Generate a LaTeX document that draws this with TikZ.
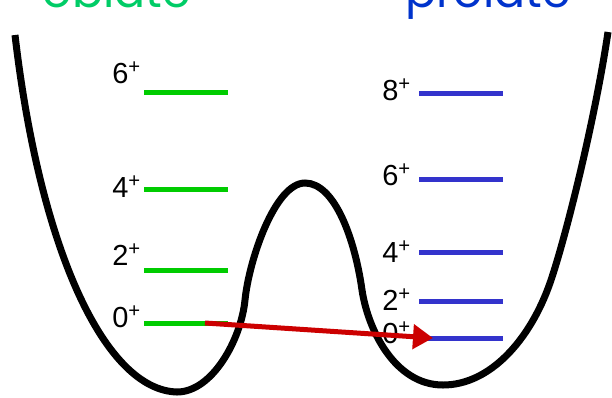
\documentclass[tikz,border=0pt]{standalone}
\usepackage{fontspec}
\setmainfont{Liberation Sans}
\newfontfamily\titlefont{Poppins}
\usetikzlibrary{arrows.meta}
\definecolor{obgreen}{HTML}{00CC66}
\definecolor{prblue}{HTML}{0033CC}
\definecolor{lvgreen}{HTML}{00CC00}
\definecolor{lvblue}{HTML}{3333CC}
\definecolor{arrred}{HTML}{CC0000}
\tikzset{
  potential/.style={line width=7pt, black, line cap=butt},
  glevel/.style={line width=5pt, lvgreen},
  blevel/.style={line width=5pt, lvblue},
  spinlabel/.style={anchor=base east, inner sep=0pt, font=\fontsize{29}{29}\selectfont, text=black},
  titlelabel/.style={anchor=base, inner sep=0pt, font=\titlefont\fontsize{46}{46}\selectfont},
  transition/.style={line width=5pt, arrred, -{Triangle[length=20pt,width=24pt]}}
}
\begin{document}
\begin{tikzpicture}[x=1pt,y=-1pt]
\useasboundingbox (0,0) rectangle (612,397);
\clip (0,0) rectangle (612,397);
% titles
\node[titlelabel, text=obgreen] (oblate) at (117,7) {oblate};
\node[titlelabel, text=prblue] (prolate) at (488,7) {prolate};
% potential
\draw[potential] (15,35)
  .. controls (40,250) and (105,390) .. (177,392)
  .. controls (212,392) and (241,340) .. (245,300)
  .. controls (249,260) and (275,183) .. (305,183)
  .. controls (335,183) and (355,240) .. (362,290)
  .. controls (368,330) and (395,385) .. (443,385)
  .. controls (490,385) and (530,340) .. (550,283)
  .. controls (565,240) and (595,120) .. (608,32);
% oblate levels
\foreach \nm/\y in {g6/92, g4/189, g2/270, g0/323}{
  \coordinate (\nm a) at (144,\y);
  \coordinate (\nm b) at (228,\y);
  \draw[glevel] (\nm a) -- (\nm b);
}
\node[spinlabel] (lg6) at (141,83) {6\textsuperscript{+}};
\node[spinlabel] (lg4) at (141,197) {4\textsuperscript{+}};
\node[spinlabel] (lg2) at (141,265) {2\textsuperscript{+}};
\node[spinlabel] (lg0) at (141,327) {0\textsuperscript{+}};
% prolate levels
\foreach \nm/\y in {b8/93, b6/179, b4/252, b2/301, b0/338}{
  \coordinate (\nm a) at (419,\y);
  \coordinate (\nm b) at (503,\y);
  \draw[blevel] (\nm a) -- (\nm b);
}
\node[spinlabel] (lb8) at (411,100) {8\textsuperscript{+}};
\node[spinlabel] (lb6) at (411,185) {6\textsuperscript{+}};
\node[spinlabel] (lb4) at (411,262) {4\textsuperscript{+}};
\node[spinlabel] (lb2) at (411,310) {2\textsuperscript{+}};
\node[spinlabel] (lb0) at (411,343) {0\textsuperscript{+}};
% transition
\coordinate (arrS) at (205,323);
\coordinate (arrE) at (433,338);
\draw[transition] (arrS) -- (arrE);
\end{tikzpicture}
\end{document}
